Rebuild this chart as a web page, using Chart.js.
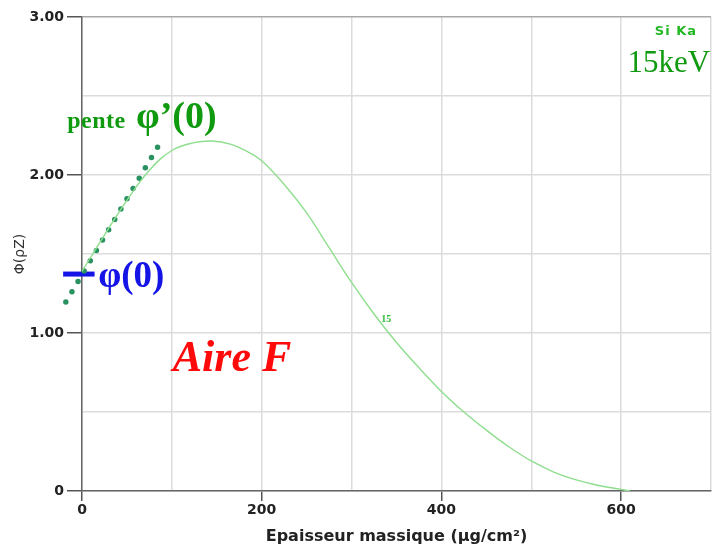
<!DOCTYPE html>
<html>
<head>
  <title>Phi(rhoZ) Si Ka 15keV</title>
  <script src="https://cdn.jsdelivr.net/npm/chart.js"></script>
  <style>
    body { margin: 0; background: #fff; }
  </style>
</head>
<body>
  <canvas id="phiChart" width="712" height="547"></canvas>

<script>
  // mass thickness (µg/cm²) and phi(rhoZ)
  const depth = [0, 25, 50, 75, 100, 125, 145, 165, 185, 200, 225, 250, 275, 300, 325, 350, 375, 400, 425, 450, 475, 500, 525, 550, 575, 600, 610];
  const phi = [1.39, 1.62, 1.84, 2.03, 2.155, 2.205, 2.215, 2.195, 2.145, 2.09, 1.94, 1.76, 1.54, 1.32, 1.12, 0.94, 0.78, 0.63, 0.50, 0.385, 0.28, 0.19, 0.12, 0.07, 0.035, 0.01, 0.0];

  // tangent at the surface (dotted) and the phi(0) marker
  const tangentX = [-18, 84.5];
  const tangentY = [1.196, 2.18];
  const phi0X = [-21, 14];
  const phi0Y = [1.373, 1.373];

  const xLabelTicks = [0, 200, 400, 600];
  const yLabelTicks = [0, 1, 2, 3];

  const curve = depth.map((d, i) => ({ x: d, y: phi[i] }));
  const tangent = tangentX.map((d, i) => ({ x: d, y: tangentY[i] }));
  const phi0 = phi0X.map((d, i) => ({ x: d, y: phi0Y[i] }));

  // text annotations, placed in data units
  const notes = [
    { text: 'pente', x: -16.5, y: 2.30, font: 'bold 24px "Liberation Serif"', color: '#109a10', align: 'left', spacing: '0.5px' },
    { text: 'φ’(0)', x: 60, y: 2.30, font: 'bold 38px "Liberation Serif"', color: '#109a10', align: 'left' },
    { text: 'φ(0)', x: 18, y: 1.29, font: 'bold 37px "Liberation Serif"', color: '#1414e6', align: 'left' },
    { text: 'Aire F', x: 101, y: 0.76, font: 'bold italic 44px "Liberation Serif"', color: '#ff0a0a', align: 'left' },
    { text: 'Si Ka', x: 661, y: 2.885, font: 'bold 13px "DejaVu Sans"', color: '#22b822', align: 'center', spacing: '1px' },
    { text: '15keV', x: 699, y: 2.65, font: '31px "Liberation Serif"', color: '#109a10', align: 'right' },
    { text: '15', x: 333, y: 1.07, font: 'bold 10px "Liberation Serif"', color: '#33bb33', align: 'left' }
  ];

  const notesPlugin = {
    id: 'notes',
    afterDatasetsDraw(chart) {
      const ctx = chart.ctx;
      const xs = chart.scales.x, ys = chart.scales.y;
      ctx.save();
      ctx.textBaseline = 'alphabetic';
      notes.forEach(n => {
        ctx.font = n.font;
        ctx.fillStyle = n.color;
        ctx.textAlign = n.align;
        ctx.letterSpacing = n.spacing || '0px';
        ctx.fillText(n.text, xs.getPixelForValue(n.x), ys.getPixelForValue(n.y));
      });
      ctx.letterSpacing = '0px';
      ctx.restore();
    }
  };

  const ctx = document.getElementById('phiChart').getContext('2d');

  new Chart(ctx, {
    type: 'line',
    data: {
      datasets: [
        {
          data: curve,
          borderColor: '#8ede8e',
          borderWidth: 1.4,
          pointRadius: 0,
          fill: false,
          tension: 0.4
        },
        {
          data: tangent,
          borderColor: '#2a9160',
          borderWidth: 5.5,
          borderDash: [0, 12],
          borderCapStyle: 'round',
          pointRadius: 0,
          fill: false,
          clip: false
        },
        {
          data: phi0,
          borderColor: '#1414e6',
          borderWidth: 5,
          pointRadius: 0,
          fill: false,
          clip: false
        }
      ]
    },
    options: {
      responsive: false,
      animation: false,
      layout: { padding: { top: 17, right: 0, left: 0, bottom: 0 } },
      plugins: {
        legend: { display: false },
        tooltip: { enabled: false }
      },
      scales: {
        x: {
          type: 'linear',
          min: 0,
          max: 700,
          afterFit(scale) { scale.height = 56; },
          border: { color: '#666', width: 1.5 },
          grid: {
            color: '#dcdcdc',
            lineWidth: 1.5,
            tickLength: 10,
            tickColor: c => xLabelTicks.includes(c.tick && c.tick.value) ? '#555' : 'rgba(0,0,0,0)'
          },
          ticks: {
            stepSize: 100,
            autoSkip: false,
            maxRotation: 0,
            padding: 1,
            color: '#222',
            font: { family: 'DejaVu Sans', size: 14, weight: 'bold' },
            callback: v => xLabelTicks.includes(v) ? String(v) : ''
          },
          title: {
            display: true,
            text: 'Epaisseur massique (µg/cm²)',
            color: '#222',
            font: { family: 'DejaVu Sans', size: 16, weight: 'bold' },
            padding: { top: 0, bottom: 1 }
          }
        },
        y: {
          min: 0,
          max: 3,
          afterFit(scale) { scale.width = 82; },
          border: { color: '#666', width: 1.5 },
          grid: {
            color: c => (c.tick && c.tick.value === 3) ? '#a8a8a8' : '#dcdcdc',
            lineWidth: 1.5,
            tickLength: 15,
            tickColor: c => yLabelTicks.includes(c.tick && c.tick.value) ? '#555' : 'rgba(0,0,0,0)'
          },
          ticks: {
            stepSize: 0.5,
            autoSkip: false,
            padding: 3,
            color: '#222',
            font: { family: 'DejaVu Sans', size: 14, weight: 'bold' },
            callback: v => yLabelTicks.includes(v) ? (v === 0 ? '0' : v.toFixed(2)) : ''
          },
          title: {
            display: true,
            text: 'Φ(ρZ)',
            color: '#333',
            font: { family: 'DejaVu Sans', size: 14 },
            padding: { top: 12, bottom: 0 }
          }
        }
      }
    },
    plugins: [notesPlugin]
  });
</script>
</body>
</html>
